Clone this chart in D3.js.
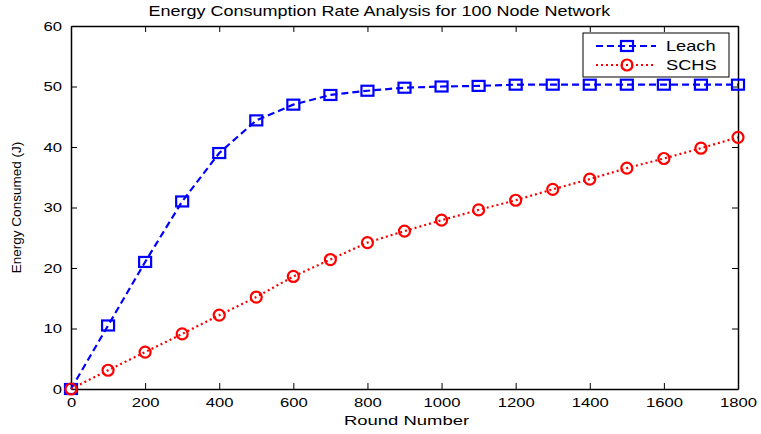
<!DOCTYPE html>
<html>
<head>
<meta charset="utf-8">
<script src="https://cdn.jsdelivr.net/npm/d3@7"></script>
<style>
  body { margin: 0; background: #fff; }
  text { font-family: 'Liberation Sans', Arial, sans-serif; }
</style>
</head>
<body>
<svg width="761" height="434"></svg>
<script>
var svg = d3.select('svg')

var rounds = [0, 100, 200, 300, 400, 500, 600, 700, 800, 900, 1000, 1100, 1200, 1300, 1400, 1500, 1600, 1700, 1800]
var leach = [0, 10.5, 21, 31, 39, 44.4, 47, 48.6, 49.3, 49.8, 50, 50.1, 50.3, 50.3, 50.3, 50.3, 50.3, 50.3, 50.3]
var schs = [0, 3.1, 6.1, 9.1, 12.2, 15.2, 18.6, 21.4, 24.2, 26.1, 27.9, 29.6, 31.2, 33, 34.7, 36.5, 38.1, 39.8, 41.6]
var xTicks = [0, 200, 400, 600, 800, 1000, 1200, 1400, 1600, 1800]
var yTicks = [0, 10, 20, 30, 40, 50, 60]

var plotL = 71, plotR = 738, plotT = 26, plotB = 389

var x = d3.scaleLinear().domain([0, 1800]).range([plotL, plotR])
var y = d3.scaleLinear().domain([0, 60]).range([plotB, plotT])

// the original picture is a bit stretched sideways, so widen horizontal text
function stretch (sel, k) {
  sel.each(function () {
    var w = this.getComputedTextLength()
    d3.select(this).attr('textLength', w * k).attr('lengthAdjust', 'spacingAndGlyphs')
  })
}

// axes, MATLAB style with ticks pointing in
var xAx = svg.append('g')
  .attr('transform', 'translate(0,' + plotB + ')')
  .call(d3.axisBottom(x).tickValues(xTicks).tickFormat(d3.format('d')).tickSize(-6).tickPadding(10).tickSizeOuter(0))
svg.append('g')
  .attr('transform', 'translate(0,' + plotT + ')')
  .call(d3.axisTop(x).tickValues(xTicks).tickSize(-6).tickFormat('').tickSizeOuter(0))
var yAx = svg.append('g')
  .attr('transform', 'translate(' + plotL + ',0)')
  .call(d3.axisLeft(y).tickValues(yTicks).tickSize(-6).tickPadding(9).tickSizeOuter(0))
svg.append('g')
  .attr('transform', 'translate(' + plotR + ',0)')
  .call(d3.axisRight(y).tickValues(yTicks).tickSize(-6).tickFormat('').tickSizeOuter(0))

svg.selectAll('.domain').attr('stroke', '#000').attr('stroke-width', 1.5)
svg.selectAll('.tick line').attr('stroke', '#000')
svg.selectAll('.tick text').attr('font-size', 13).attr('fill', '#000')
  .style('font-family', "'Liberation Sans', Arial, sans-serif")
xAx.selectAll('.tick text').attr('dy', '0.71em').attr('y', 9)
stretch(xAx.selectAll('.tick text'), 1.28)
stretch(yAx.selectAll('.tick text'), 1.28)

var line = d3.line()
  .x((d) => x(d[0]))
  .y((d) => y(d[1]))

var leachPts = rounds.map((r, i) => [r, leach[i]])
var schsPts = rounds.map((r, i) => [r, schs[i]])

svg.append('path')
  .attr('d', line(leachPts))
  .attr('fill', 'none')
  .attr('stroke', '#0000ff')
  .attr('stroke-width', 2.2)
  .attr('stroke-dasharray', '7,4')

svg.append('path')
  .attr('d', line(schsPts))
  .attr('fill', 'none')
  .attr('stroke', '#ff0000')
  .attr('stroke-width', 2.2)
  .attr('stroke-dasharray', '2,3')

svg.selectAll('rect.leach')
  .data(leachPts)
  .enter().append('rect')
  .attr('class', 'leach')
  .attr('x', (d) => x(d[0]) - 6)
  .attr('y', (d) => y(d[1]) - 5)
  .attr('width', 12)
  .attr('height', 10)
  .attr('fill', 'none')
  .attr('stroke', '#0000ff')
  .attr('stroke-width', 2.2)

svg.selectAll('circle.schs')
  .data(schsPts)
  .enter().append('circle')
  .attr('class', 'schs')
  .attr('cx', (d) => x(d[0]))
  .attr('cy', (d) => y(d[1]))
  .attr('r', 5.5)
  .attr('fill', 'none')
  .attr('stroke', '#ff0000')
  .attr('stroke-width', 2.2)

// legend
var lg = svg.append('g')
lg.append('rect')
  .attr('x', 583).attr('y', 33).attr('width', 146).attr('height', 44)
  .attr('fill', '#fff').attr('stroke', '#000').attr('stroke-width', 1)

var legendItems = [
  { name: 'Leach', color: '#0000ff', dash: '7,4', marker: 'square' },
  { name: 'SCHS', color: '#ff0000', dash: '2,3', marker: 'circle' }
]
legendItems.forEach((it, i) => {
  var yy = 46 + i * 19
  lg.append('line')
    .attr('x1', 596).attr('x2', 656).attr('y1', yy).attr('y2', yy)
    .attr('stroke', it.color).attr('stroke-width', 2.2).attr('stroke-dasharray', it.dash)
  if (it.marker === 'square') {
    lg.append('rect').attr('x', 621).attr('y', yy - 5).attr('width', 12).attr('height', 10)
      .attr('fill', 'none').attr('stroke', it.color).attr('stroke-width', 2.2)
  } else {
    lg.append('circle').attr('cx', 627).attr('cy', yy).attr('r', 5.5)
      .attr('fill', 'none').attr('stroke', it.color).attr('stroke-width', 2.2)
  }
  var t = lg.append('text')
    .attr('x', 666).attr('y', yy + 5)
    .attr('font-size', 14)
    .text(it.name)
  stretch(t, 1.3)
})

var title = svg.append('text')
  .attr('x', (plotL + plotR) / 2 - 25).attr('y', 16)
  .attr('text-anchor', 'middle')
  .attr('font-size', 14.5)
  .text('Energy Consumption Rate Analysis for 100 Node Network')
stretch(title, 1.24)

var xLab = svg.append('text')
  .attr('x', (plotL + plotR) / 2 + 2).attr('y', 425)
  .attr('text-anchor', 'middle')
  .attr('font-size', 13)
  .text('Round Number')
stretch(xLab, 1.42)

svg.append('text')
  .attr('transform', 'translate(21,' + (plotT + plotB) / 2 + ') rotate(-90)')
  .attr('text-anchor', 'middle')
  .attr('font-size', 13.5)
  .text('Energy Consumed (J)')
</script>
</body>
</html>
